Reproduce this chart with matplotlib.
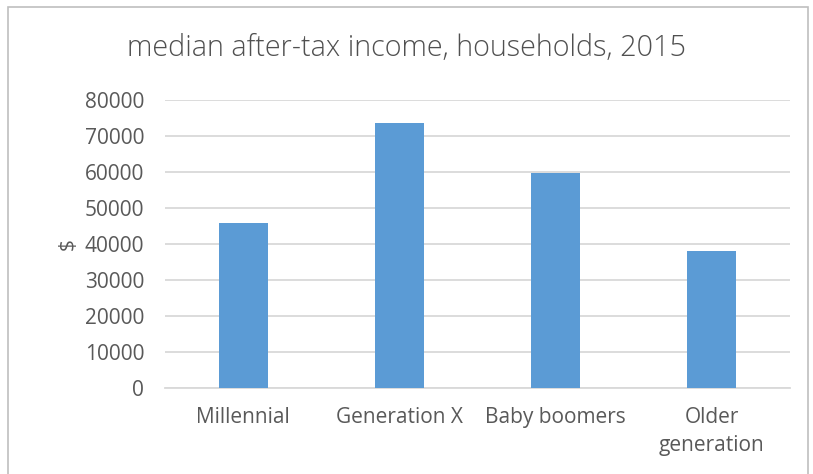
import matplotlib.pyplot as plt
import matplotlib.patches as mpatches
import numpy as np

# median after-tax household income by generation, 2015
generations = ['Millennial', 'Generation X', 'Baby boomers', 'Older\ngeneration']
income = [45700, 73500, 59700, 37900]
yticks = list(range(0, 80001, 10000))

bar_color = '#5B9BD5'
text_color = '#595959'
grid_color = '#D9D9D9'

plt.rcParams['font.family'] = ['Open Sans', 'DejaVu Sans']

fig = plt.figure(figsize=(8.13, 4.74), dpi=100)
ax = fig.add_axes([165/813, 1-387.5/474, 625/813, 287.5/474])

x = np.arange(len(generations))
ax.bar(x, income, width=0.313, color=bar_color, zorder=3)

ax.set_xlim(-0.5, len(generations)-0.5)
ax.set_ylim(0, 80000)
ax.set_yticks(yticks)
ax.set_yticklabels([str(v) for v in yticks], fontsize=15, color=text_color)
ax.set_xticks(x)
ax.set_xticklabels(generations, fontsize=15, color=text_color, linespacing=1.45)
ax.tick_params(axis='both', length=0)
ax.tick_params(axis='y', pad=15)
ax.tick_params(axis='x', pad=14)

ax.grid(axis='y', color=grid_color, linewidth=1.3, zorder=0)
for side in ['top', 'right', 'left']:
   ax.spines[side].set_visible(False)
ax.spines['bottom'].set_color(grid_color)
ax.spines['bottom'].set_linewidth(1.3)

ax.set_ylabel('$', fontsize=15, color=text_color, labelpad=4)
fig.text(0.5, 1-48/474, 'median after-tax income, households, 2015',
         ha='center', va='center', fontsize=20.7, fontweight='light',
         color='#505050')

# chart border
fig.patches.append(mpatches.Rectangle((8/813, -0.01), 800/813, 1.01-7/474,
                   transform=fig.transFigure, fill=False,
                   edgecolor='#BFBFBF', linewidth=1.2))

fig.savefig('out.png', dpi=100)
